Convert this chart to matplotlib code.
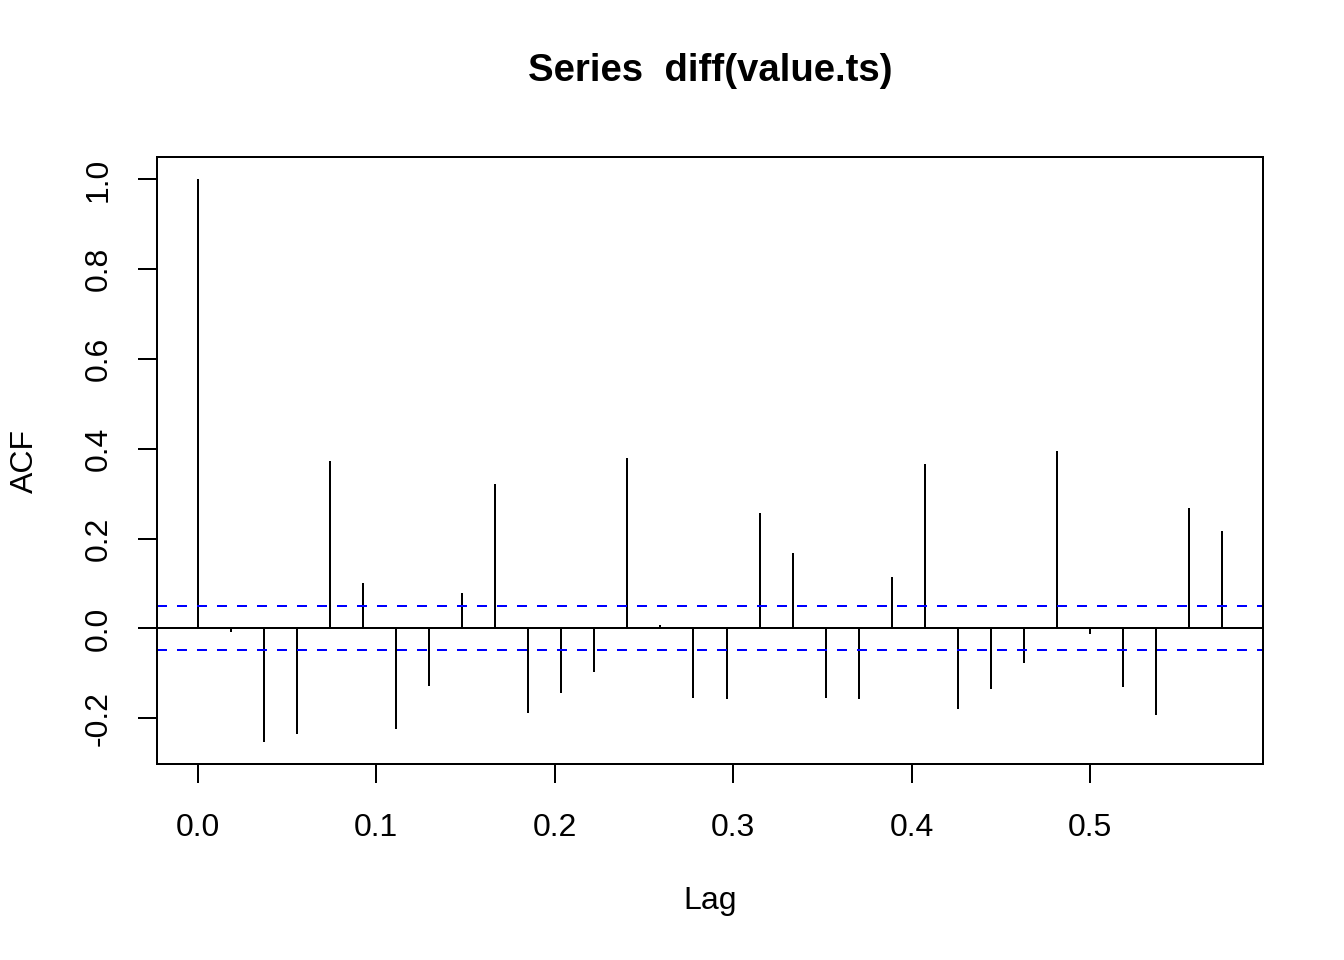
import matplotlib
matplotlib.use("Agg")
import matplotlib.pyplot as plt
import numpy as np

freq = 54
acf_values = [1.000, -0.007, -0.252, -0.236, 0.372, 0.102, -0.223, -0.129,
              0.078, 0.321, -0.189, -0.143, -0.098, 0.379, 0.007, -0.156,
              -0.158, 0.258, 0.167, -0.156, -0.158, 0.114, 0.367, -0.180,
              -0.136, -0.078, 0.396, -0.013, -0.131, -0.194, 0.269, 0.216]
ci = 0.049
lags = np.arange(len(acf_values)) / freq
x_ticks = [0.0, 0.1, 0.2, 0.3, 0.4, 0.5]
x_tick_labels = ["0.0", "0.1", "0.2", "0.3", "0.4", "0.5"]
y_ticks = [-0.2, 0.0, 0.2, 0.4, 0.6, 0.8, 1.0]
y_tick_labels = ["-0.2", "0.0", "0.2", "0.4", "0.6", "0.8", "1.0"]
title = "Series  diff(value.ts)"

plt.rcParams['font.family'] = ['Liberation Sans', 'DejaVu Sans']
lw = 0.75

fig = plt.figure(figsize=(7, 5), dpi=192)
ax = fig.add_axes([157/1344, 1-764/960, (1263-157)/1344, (764-157)/960])

vals = np.array(acf_values)
ax.vlines(lags, 0, vals, colors='black', linewidth=lw)
ax.axhline(0, color='black', linewidth=lw)
for c in (ci, -ci):
    ax.axhline(c, color='blue', linewidth=lw, linestyle=(0, (5, 5)))

xr = lags.max() - lags.min()
ax.set_xlim(lags.min() - 0.04*xr, lags.max() + 0.04*xr)
yr = vals.max() - vals.min()
ax.set_ylim(vals.min() - 0.04*yr, vals.max() + 0.04*yr)

ax.set_xticks(x_ticks)
ax.set_xticklabels(x_tick_labels)
ax.set_yticks(y_ticks)
ax.set_yticklabels(y_tick_labels, rotation=90, va='center')
ax.tick_params(axis='both', direction='out', length=7.2, width=lw, labelsize=12, color='black')
ax.tick_params(axis='x', pad=11)
ax.tick_params(axis='y', pad=9)
for s in ax.spines.values():
    s.set_linewidth(lw)

cx = (157+1263)/2/1344
fig.text(cx, 1-71/960, title, ha='center', va='center', fontsize=14.4, fontweight='bold')
fig.text(cx, 1-901/960, "Lag", ha='center', va='center', fontsize=12)
fig.text(25/1344, 1-460.5/960, "ACF", ha='center', va='center', fontsize=12, rotation=90)

fig.savefig("out.png", dpi=192)
